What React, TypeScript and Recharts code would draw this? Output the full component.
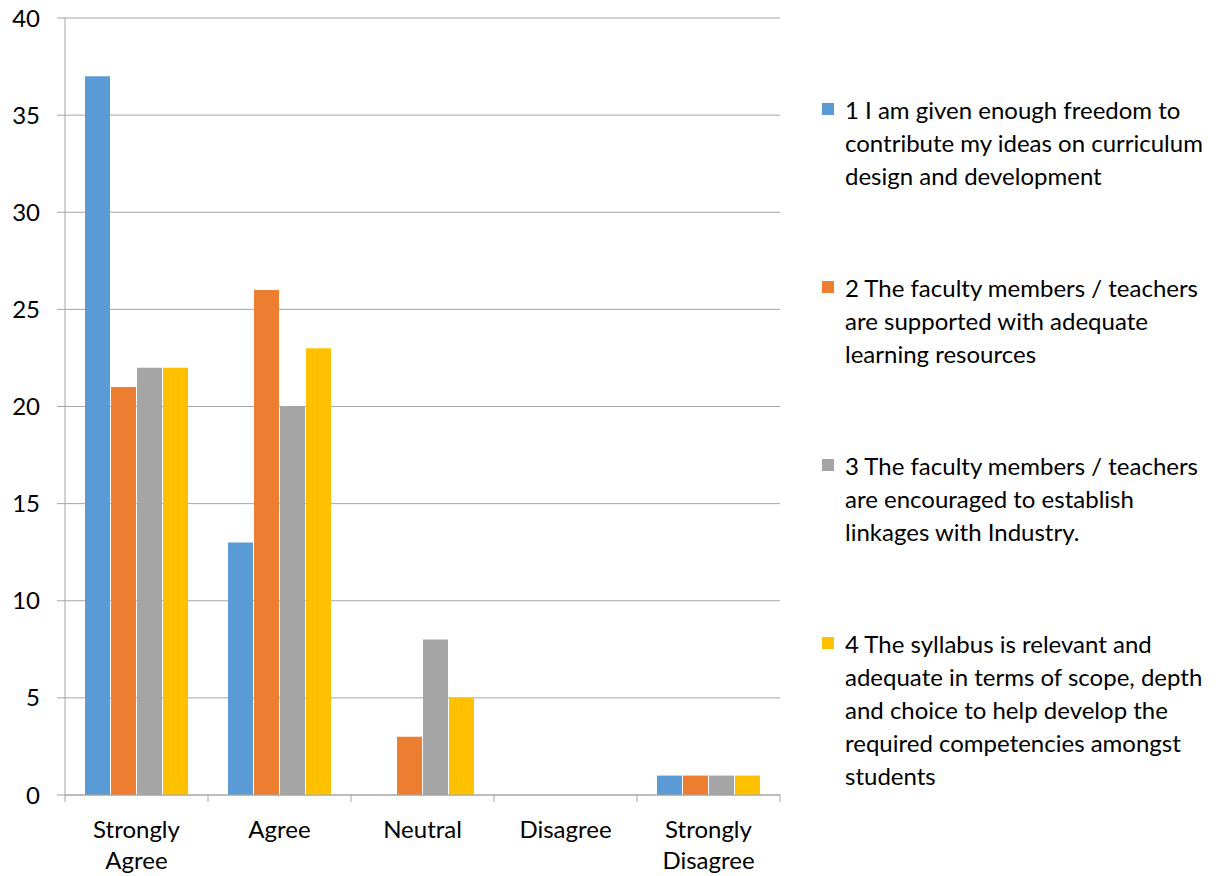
import { BarChart, Bar, XAxis, YAxis, CartesianGrid } from 'recharts'

const categories = ['Strongly\nAgree', 'Agree', 'Neutral', 'Disagree', 'Strongly\nDisagree']
const q1 = [37, 13, 0, 0, 1]
const q2 = [21, 26, 3, 0, 1]
const q3 = [22, 20, 8, 0, 1]
const q4 = [22, 23, 5, 0, 1]
const yTicks = [0, 5, 10, 15, 20, 25, 30, 35, 40]

const seriesNames = [
  '1 I am given enough freedom to\ncontribute my ideas on curriculum\ndesign and development',
  '2 The faculty members / teachers\nare supported with adequate\nlearning resources',
  '3 The faculty members / teachers\nare encouraged to establish\nlinkages with Industry.',
  '4 The syllabus is relevant and\nadequate in terms of scope, depth\nand choice to help develop the\nrequired competencies amongst\nstudents',
]
const colors = ['#5b9bd5', '#ed7d31', '#a5a5a5', '#ffc000']

const data = categories.map((c, i) => ({ name: c, q1: q1[i], q2: q2[i], q3: q3[i], q4: q4[i] }))
const keys = ['q1', 'q2', 'q3', 'q4']

const W = 1225
const H = 876
const M = { top: 18, right: 445, bottom: 0, left: 0 }
const Y_W = 65
const X_H = 81
const PLOT_W = W - M.left - M.right - Y_W
const HALF_BAND = PLOT_W / categories.length / 2

const FONT = 'Lato, "Open Sans", sans-serif'
const GRID = '#a6a6a6'

function CatTick(props: any) {
  const { x, y, payload, index } = props
  const lines = String(payload.value).split('\n')
  return (
    <g>
      <line x1={x - HALF_BAND} x2={x - HALF_BAND} y1={y} y2={y + 7} stroke={GRID} />
      {index === categories.length - 1 && (
        <line x1={x + HALF_BAND} x2={x + HALF_BAND} y1={y} y2={y + 7} stroke={GRID} />
      )}
      <text x={x} y={y} textAnchor="middle" fontSize={24} fontFamily={FONT} fill="#000">
        {lines.map((l, i) => (
          <tspan key={i} x={x} dy={i === 0 ? 43 : 31}>{l}</tspan>
        ))}
      </text>
    </g>
  )
}

function LegendBox() {
  return (
    <div style={{ position: 'absolute', left: 822, top: 93, width: 403, fontFamily: FONT, fontSize: 24, lineHeight: '33px', color: '#000' }}>
      {seriesNames.map((n, i) => (
        <div key={i} style={{ display: 'flex', alignItems: 'flex-start', height: 178 }}>
          <div style={{ width: 12, height: 12, background: colors[i], marginTop: 10, marginRight: 11, flexShrink: 0 }} />
          <div style={{ whiteSpace: 'pre-line' }}>{n}</div>
        </div>
      ))}
    </div>
  )
}

export default function App() {
  return (
    <div style={{ position: 'fixed', left: 0, top: 0, width: W, height: H, background: '#fff' }}>
      <BarChart width={W} height={H} data={data} margin={M} barCategoryGap="14%" barGap={1}>
        <CartesianGrid vertical={false} stroke={GRID} strokeDasharray="" />
        <XAxis dataKey="name" height={X_H} stroke={GRID} tickLine={false} tickSize={0} tickMargin={0}
          interval={0} tick={<CatTick />} />
        <YAxis width={Y_W} domain={[0, 40]} ticks={yTicks} stroke={GRID} tickSize={8} tickMargin={17}
          tick={{ fontSize: 24, fontFamily: FONT, fill: '#000' }} interval={0} />
        {keys.map((k, i) => (
          <Bar key={k} dataKey={k} name={seriesNames[i]} fill={colors[i]} isAnimationActive={false} />
        ))}
      </BarChart>
      <LegendBox />
    </div>
  )
}
